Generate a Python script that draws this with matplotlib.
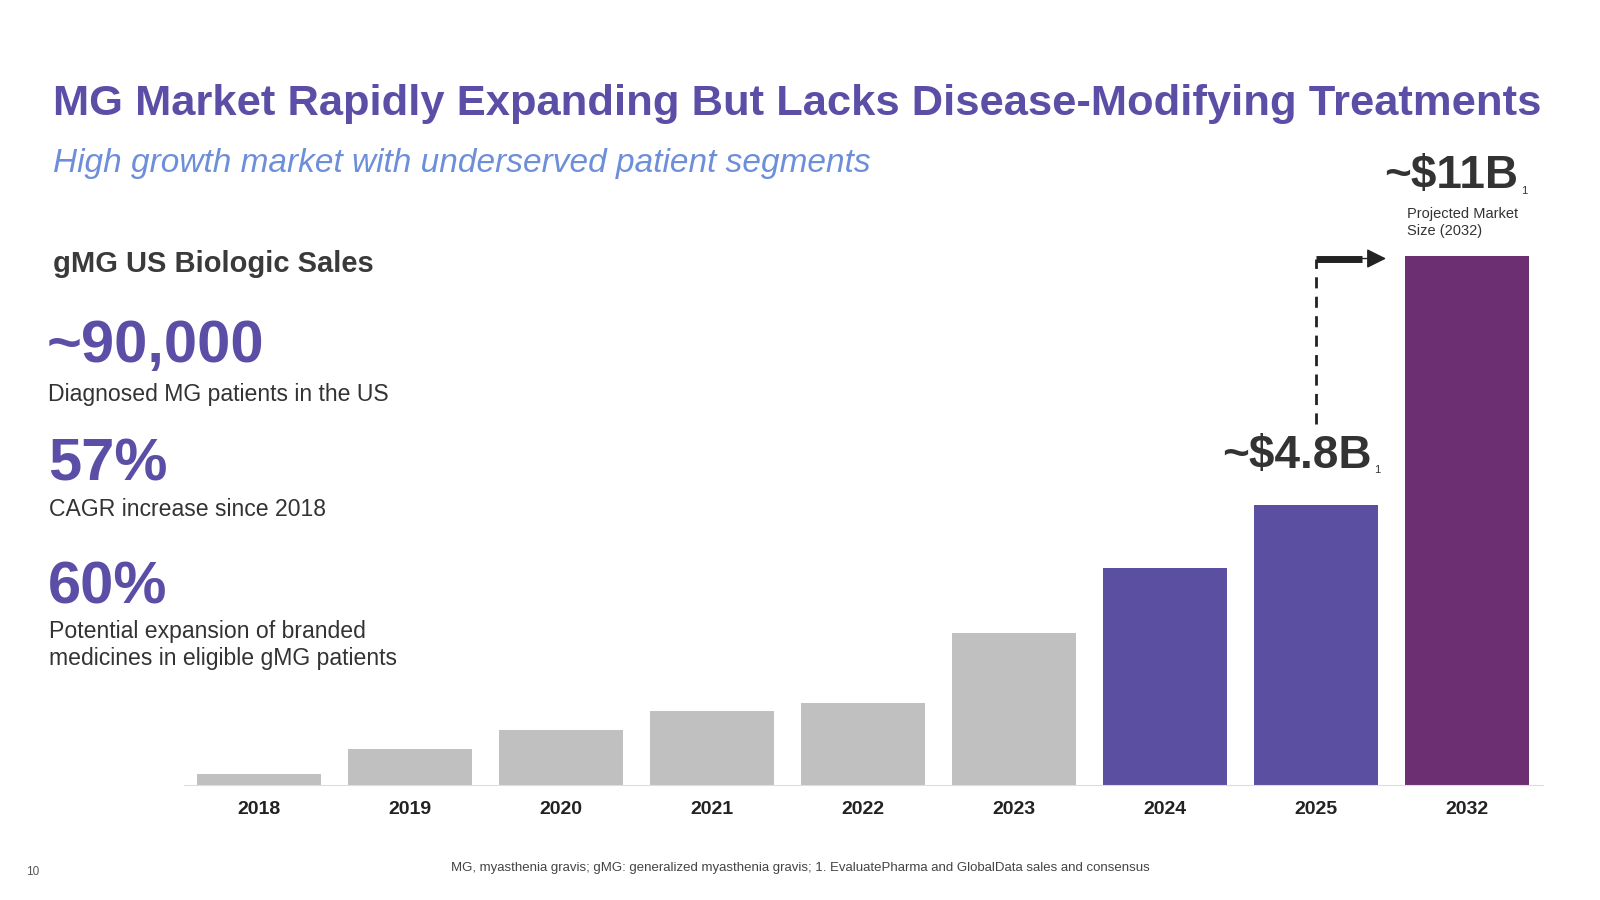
import matplotlib.pyplot as plt

plt.rcParams["font.family"] = ["Liberation Sans", "DejaVu Sans"]

years = ["2018", "2019", "2020", "2021", "2022", "2023", "2024", "2025", "2032"]
sales_b = [0.23, 0.74, 1.13, 1.53, 1.70, 3.15, 4.50, 5.83, 11.0]
bar_colors = ["#c0c0c0"] * 6 + ["#5a4fa0", "#5a4fa0", "#6b2f72"]

PURPLE = "#5b4ea6"
# reference measured at its displayed size
W, H = 1568, 882

fig = plt.figure(figsize=(16, 9), dpi=100)
fig.patch.set_facecolor("white")


def fx(px):
    return px / W


def fy(py):
    return 1 - py / H


ax = fig.add_axes([fx(180), fy(769), fx(1512 - 180), fy(251) - fy(769)])
x = list(range(len(years)))
ax.bar(x, sales_b, width=0.82, color=bar_colors)
ax.set_xlim(-0.5, 8.5)
ax.set_ylim(0, 11)
ax.set_xticks(x)
ax.set_xticklabels(years, fontsize=14, fontweight="bold", color="#222222")
ax.tick_params(axis="x", length=0, pad=12)
ax.set_yticks([])
for side in ["left", "right", "top"]:
    ax.spines[side].set_visible(False)
ax.spines["bottom"].set_color("#dddddd")

# dashed connector from 2025 label to 2032 bar
ax.plot([7, 7], [7.5, 10.95], ls=(0, (4, 3)), color="#222222", lw=2, clip_on=False)
ax.plot([7, 7.3], [10.95, 10.95], color="#222222", lw=5, solid_capstyle="butt",
        clip_on=False)
ax.annotate("", xy=(7.48, 10.95), xytext=(7.28, 10.95),
            arrowprops=dict(arrowstyle="-|>,head_width=0.6,head_length=1.2",
                            color="#222222", lw=1), annotation_clip=False)

fig.text(fx(1198), fy(447), "~$4.8B", fontsize=33, fontweight="bold",
         color="#333333", va="center")
fig.text(fx(1347), fy(461), "1", fontsize=8, color="#333333", va="center")
fig.text(fx(1356), fy(172), "~$11B", fontsize=33, fontweight="bold",
         color="#333333", va="center")
fig.text(fx(1491), fy(187), "1", fontsize=8, color="#333333", va="center")
fig.text(fx(1379), fy(218), "Projected Market\nSize (2032)", fontsize=10.5,
         color="#333333", va="center", linespacing=1.3)

fig.text(fx(52), fy(102), "MG Market Rapidly Expanding But Lacks Disease-Modifying Treatments",
         fontsize=31.3, fontweight="bold", color=PURPLE, va="center")
fig.text(fx(52), fy(160), "High growth market with underserved patient segments",
         fontsize=24, style="italic", color="#6d8ed8", va="center")
fig.text(fx(52), fy(259), "gMG US Biologic Sales", fontsize=21, fontweight="bold",
         color="#3a3a3a", va="center")

fig.text(fx(46), fy(340), "~90,000", fontsize=43, fontweight="bold", color=PURPLE, va="center")
fig.text(fx(47), fy(387), "Diagnosed MG patients in the US", fontsize=16.6, color="#333333", va="center")
fig.text(fx(47), fy(456), "57%", fontsize=43, fontweight="bold", color=PURPLE, va="center")
fig.text(fx(48), fy(499), "CAGR increase since 2018", fontsize=16.6, color="#333333", va="center")
fig.text(fx(47), fy(576), "60%", fontsize=43, fontweight="bold", color=PURPLE, va="center")
fig.text(fx(48), fy(632), "Potential expansion of branded\nmedicines in eligible gMG patients",
         fontsize=16.6, color="#333333", va="center", linespacing=1.2)

fig.text(fx(26), fy(855), "10", fontsize=8.5, color="#555555", va="center")
fig.text(fx(784), fy(851),
         "MG, myasthenia gravis; gMG: generalized myasthenia gravis; 1. EvaluatePharma and GlobalData sales and consensus",
         fontsize=9.5, color="#444444", ha="center", va="center")

fig.savefig("out.png", dpi=100)
